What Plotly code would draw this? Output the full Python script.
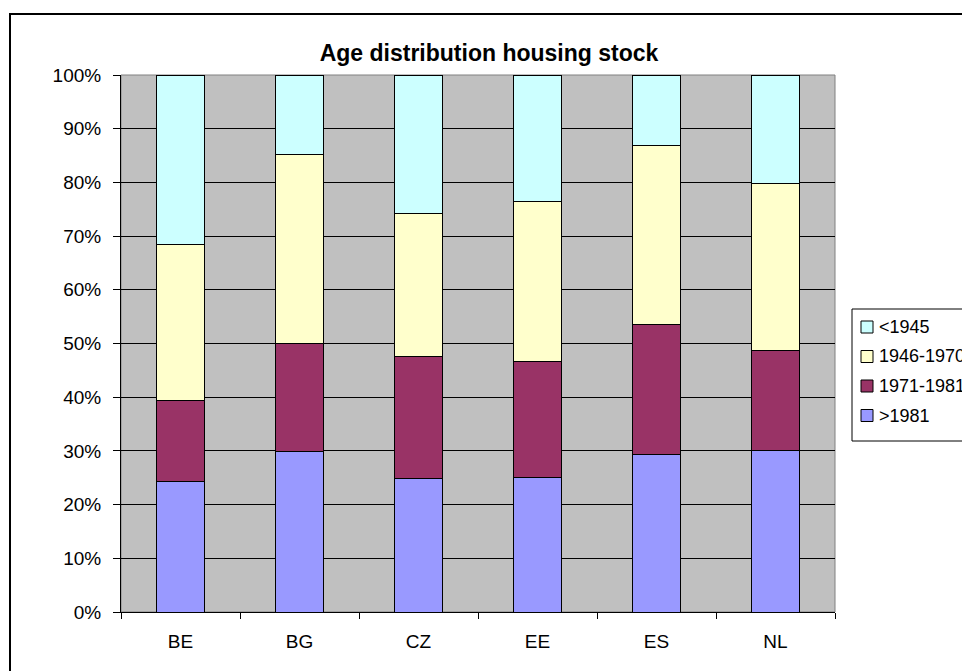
import plotly.graph_objects as go

categories = ["BE", "BG", "CZ", "EE", "ES", "NL"]
after_1981 = [24.3, 29.9, 24.9, 25.1, 29.4, 30.0]
y1971_1981 = [15.1, 20.1, 22.6, 21.5, 24.1, 18.7]
y1946_1970 = [29.0, 35.2, 26.7, 29.9, 33.4, 31.1]
before_1945 = [31.6, 14.8, 25.8, 23.5, 13.1, 20.2]
y_ticks = list(range(0, 101, 10))
y_tick_labels = [f"{v}%" for v in y_ticks]

series = [
    (">1981", after_1981, "#9999FF"),
    ("1971-1981", y1971_1981, "#993366"),
    ("1946-1970", y1946_1970, "#FFFFCC"),
    ("<1945", before_1945, "#CCFFFF"),
]

FONT = "Liberation Sans, Arial, sans-serif"

fig = go.Figure()
for name, vals, col in series:
    fig.add_trace(go.Bar(
        x=categories, y=vals, name=name, showlegend=False,
        marker=dict(color=col, line=dict(color="#000000", width=1)),
    ))

# page body has an 8px default margin -> figure sized to fit the window
OFF = 8
W, H = 962, 663
L, R, T, B = 113, 135, 67, 59
pw, ph = W - L - R, H - T - B

def px(xs):  # screen x -> paper
    return (xs - OFF - L) / pw

def py(ys):  # screen y -> paper
    return (H - B - (ys - OFF)) / ph

shapes = [
    dict(type="rect", xref="paper", yref="paper", x0=0, x1=1, y0=0, y1=1,
         line=dict(color="#808080", width=1), layer="below"),
    dict(type="rect", xref="paper", yref="paper", x0=px(852), x1=px(1000),
         y0=py(441), y1=py(309), fillcolor="white",
         line=dict(color="#000000", width=1), layer="above"),
    dict(type="rect", xref="paper", yref="paper", x0=px(10), x1=px(1000),
         y0=py(720), y1=py(14), line=dict(color="#000000", width=2), layer="above"),
]
annotations = []
# custom legend (top entry = last series)
legend_top, legend_step = 327, 29.5
for k, (name, vals, col) in enumerate(reversed(series)):
    cy = legend_top + k * legend_step
    shapes.append(dict(type="rect", xref="paper", yref="paper",
                       x0=px(861), x1=px(873), y0=py(cy + 6), y1=py(cy - 6),
                       fillcolor=col, line=dict(color="#000000", width=1), layer="above"))
    annotations.append(dict(text=name, xref="paper", yref="paper", x=px(877), y=py(cy),
                            xanchor="left", yanchor="middle", showarrow=False,
                            font=dict(family=FONT, size=18, color="#000000")))

fig.update_layout(
    width=W, height=H,
    margin=dict(l=L, r=R, t=T, b=B, autoexpand=False),
    barmode="stack", bargap=0.6,
    paper_bgcolor="white", plot_bgcolor="#C0C0C0",
    font=dict(family=FONT, size=19, color="#000000"),
    title=dict(text="<b>Age distribution housing stock</b>", x=px(478), xanchor="center",
               y=1 - (53 - OFF) / H, yanchor="middle", font=dict(family=FONT, size=23)),
    showlegend=False,
    xaxis=dict(type="category", showline=True, linecolor="#000000", linewidth=1,
               ticks="outside", tickson="boundaries", ticklen=6, tickcolor="#000000",
               showgrid=False, tickfont=dict(size=19), ticklabelstandoff=12),
    yaxis=dict(range=[0, 100], tickvals=y_ticks, ticktext=y_tick_labels, showline=True,
               linecolor="#000000", linewidth=1, ticks="outside", ticklen=7,
               tickcolor="#000000", showgrid=True, gridcolor="#000000", gridwidth=1,
               zeroline=False, tickfont=dict(size=19), ticklabelstandoff=8),
    shapes=shapes,
    annotations=annotations,
)

fig.write_html("out.html")
